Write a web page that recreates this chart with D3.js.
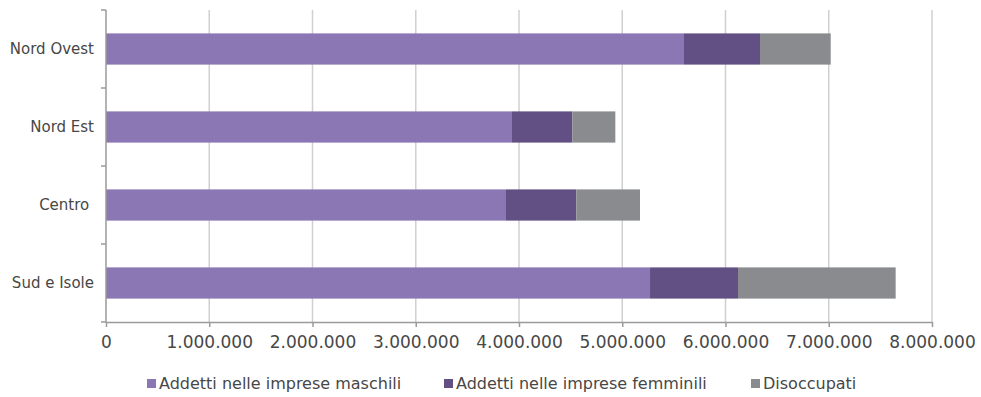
<!DOCTYPE html>
<html>
<head>
<meta charset="utf-8">
<script src="https://cdn.jsdelivr.net/npm/d3@7"></script>
<style>
  html, body { margin: 0; padding: 0; background: #fff; }
  svg { display: block; }
  text { font-family: "DejaVu Sans", sans-serif; fill: #474747; }
</style>
</head>
<body>
<svg id="chart" width="981" height="397"></svg>
<script>
// Regions, top to bottom
const categories = ["Nord Ovest", "Nord Est", "Centro ", "Sud e Isole"];
// Stacked series, one value per region
const seriesNames = ["Addetti nelle imprese maschili", "Addetti nelle imprese femminili", "Disoccupati"];
const maschili    = [5598000, 3932000, 3874000, 5269000];
const femminili   = [ 736000,  584000,  681000,  852000];
const disoccupati = [ 685000,  417000,  617000, 1527000];
const xTicks = [0, 1000000, 2000000, 3000000, 4000000, 5000000, 6000000, 7000000, 8000000];
const colors = ["#8a77b3", "#624f84", "#8a8b8e"];

const svg = d3.select("#chart");
const margin = { left: 106, right: 49, top: 10, bottom: 75 };
const W = 981, H = 397;
const plotW = W - margin.left - margin.right;
const plotH = H - margin.top - margin.bottom;

const rows = categories.map((c, i) => ({
  cat: c, m: maschili[i], f: femminili[i], d: disoccupati[i]
}));
const stack = d3.stack().keys(["m", "f", "d"]);
const layers = stack(rows);

const x = d3.scaleLinear().domain([0, 8000000]).range([0, plotW]);
const y = d3.scaleBand().domain(categories).range([0, plotH]).paddingInner(0.6).paddingOuter(0.3);
const yEdges = d3.scaleLinear().domain([0, categories.length]).range([0, plotH]);

const g = svg.append("g").attr("transform", `translate(${margin.left},${margin.top})`);

// vertical gridlines
g.append("g").selectAll("line")
  .data(xTicks.slice(1))
  .join("line")
  .attr("x1", d => x(d)).attr("x2", d => x(d))
  .attr("y1", 0).attr("y2", plotH)
  .attr("stroke", "#d0d0d0").attr("stroke-width", 1.5);

// stacked bars
g.append("g").selectAll("g")
  .data(layers)
  .join("g")
  .attr("fill", (d, i) => colors[i])
  .selectAll("rect")
  .data(d => d)
  .join("rect")
  .attr("x", d => x(d[0]))
  .attr("width", d => x(d[1]) - x(d[0]))
  .attr("y", d => y(d.data.cat))
  .attr("height", y.bandwidth());

// x axis
const fmt = v => v === 0 ? "0" : d3.format(",")(v).replace(/,/g, ".");
const xAxis = g.append("g")
  .attr("transform", `translate(0,${plotH})`)
  .call(d3.axisBottom(x).tickValues(xTicks).tickFormat(fmt).tickSize(5).tickPadding(9).tickSizeOuter(0));
xAxis.select(".domain").attr("stroke", "#9a9a9a").attr("stroke-width", 1.5);
xAxis.selectAll(".tick line").attr("stroke", "#9a9a9a").attr("stroke-width", 1.5);
xAxis.selectAll(".tick text").attr("font-size", 17).style("font-family", "DejaVu Sans").attr("fill", "#474747");

// y axis: line with ticks at band edges, labels at band centres
g.append("line")
  .attr("x1", 0).attr("x2", 0).attr("y1", 0).attr("y2", plotH)
  .attr("stroke", "#9a9a9a").attr("stroke-width", 1.5);
g.append("g").selectAll("line")
  .data(d3.range(categories.length + 1))
  .join("line")
  .attr("x1", -5).attr("x2", 0)
  .attr("y1", d => yEdges(d)).attr("y2", d => yEdges(d))
  .attr("stroke", "#9a9a9a").attr("stroke-width", 1.5);
g.append("g").selectAll("text")
  .data(categories)
  .join("text")
  .attr("x", -12)
  .attr("y", d => y(d) + y.bandwidth() / 2)
  .attr("dy", "0.35em")
  .attr("text-anchor", "end")
  .attr("font-size", 15)
  .style("white-space", "pre")
  .text(d => d);

// legend
const legendX = [147, 444, 751];
const legend = svg.append("g").attr("transform", "translate(0,383)");
const items = legend.selectAll("g")
  .data(seriesNames)
  .join("g")
  .attr("transform", (d, i) => `translate(${legendX[i]},0)`);
items.append("rect")
  .attr("x", 0).attr("y", -4).attr("width", 9).attr("height", 9)
  .attr("fill", (d, i) => colors[i]);
items.append("text")
  .attr("x", 12).attr("y", 0).attr("dy", "0.35em")
  .attr("font-size", 16)
  .text(d => d);
</script>
</body>
</html>
